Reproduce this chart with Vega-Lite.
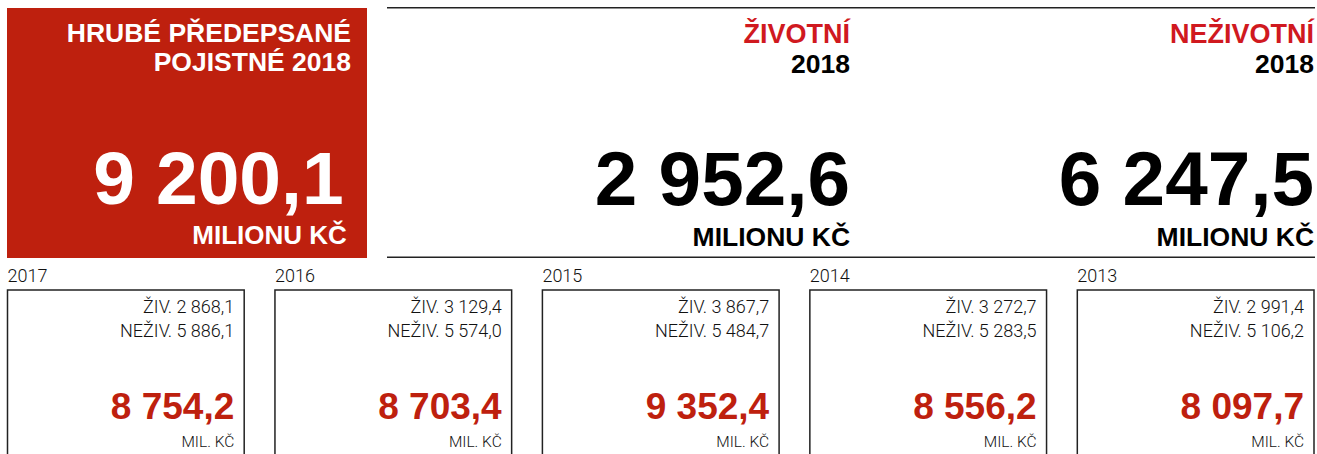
{
  "$schema": "https://vega.github.io/schema/vega-lite/v6.json",
  "width": 1317,
  "height": 454,
  "autosize": {"type": "fit", "contains": "padding"},
  "padding": 0,
  "background": "white",
  "config": {
    "view": {"stroke": null},
    "locale": {"number": {"decimal": ",", "thousands": " ", "grouping": [3], "currency": ["", " Kč"]}},
    "text": {"font": "Liberation Sans"}
  },
  "datasets": {
    "total": [{"label": "HRUBÉ PŘEDEPSANÉ\nPOJISTNÉ 2018", "year": "2018", "value": 9200.1}],
    "segments": [
      {"segment": "ŽIVOTNÍ", "year": "2018", "value": 2952.6},
      {"segment": "NEŽIVOTNÍ", "year": "2018", "value": 6247.5}
    ],
    "history": [
      {"year": "2017", "ziv": 2868.1, "neziv": 5886.1, "total": 8754.2},
      {"year": "2016", "ziv": 3129.4, "neziv": 5574.0, "total": 8703.4},
      {"year": "2015", "ziv": 3867.7, "neziv": 5484.7, "total": 9352.4},
      {"year": "2014", "ziv": 3272.7, "neziv": 5283.5, "total": 8556.2},
      {"year": "2013", "ziv": 2991.4, "neziv": 5106.2, "total": 8097.7}
    ]
  },
  "resolve": {"scale": {"x": "independent"}},
  "layer": [
    {
      "data": {"name": "total"},
      "layer": [
        {
          "mark": {"type": "rect", "fill": "#BE200E"},
          "encoding": {
            "x": {"field": "label", "type": "nominal", "axis": null, "scale": {"type": "band", "range": [7, 367], "paddingInner": 0, "paddingOuter": 0}},
            "y": {"value": 8},
            "y2": {"value": 258}
          }
        },
        {
          "mark": {"type": "text", "align": "right", "baseline": "alphabetic", "fontSize": 26.5, "fontWeight": "bold", "color": "white", "lineBreak": "\n", "lineHeight": 29},
          "encoding": {
            "x": {"field": "label", "type": "nominal", "bandPosition": 0.9556, "axis": null},
            "y": {"value": 42},
            "text": {"field": "label"}
          }
        },
        {
          "mark": {"type": "text", "align": "right", "baseline": "alphabetic", "fontSize": 75, "fontWeight": "bold", "color": "white"},
          "encoding": {
            "x": {"field": "label", "type": "nominal", "bandPosition": 0.935, "axis": null},
            "y": {"value": 204},
            "text": {"field": "value", "type": "quantitative", "format": ",.1f"}
          }
        },
        {
          "mark": {"type": "text", "align": "right", "baseline": "alphabetic", "fontSize": 26, "fontWeight": "bold", "color": "white", "text": "MILIONU KČ"},
          "encoding": {
            "x": {"field": "label", "type": "nominal", "bandPosition": 0.944, "axis": null},
            "y": {"value": 244}
          }
        }
      ]
    },
    {
      "data": {"name": "segments"},
      "encoding": {
        "x": {"field": "segment", "type": "nominal", "sort": null, "axis": null, "scale": {"type": "band", "range": [387, 1315], "paddingInner": 0, "paddingOuter": 0}}
      },
      "layer": [
        {
          "mark": {"type": "rect", "fill": "#222222"},
          "encoding": {"y": {"value": 7}, "y2": {"value": 8.5}}
        },
        {
          "mark": {"type": "rect", "fill": "#222222"},
          "encoding": {"y": {"value": 256.5}, "y2": {"value": 258}}
        },
        {
          "mark": {"type": "text", "align": "right", "baseline": "alphabetic", "fontSize": 27, "fontWeight": "bold", "color": "#D0191F"},
          "encoding": {
            "x": {"field": "segment", "type": "nominal", "sort": null, "bandPosition": 0.998, "axis": null},
            "y": {"value": 43},
            "text": {"field": "segment"}
          }
        },
        {
          "mark": {"type": "text", "align": "right", "baseline": "alphabetic", "fontSize": 26.5, "fontWeight": "bold", "color": "#000000"},
          "encoding": {
            "x": {"field": "segment", "type": "nominal", "sort": null, "bandPosition": 0.998, "axis": null},
            "y": {"value": 73},
            "text": {"field": "year", "type": "nominal"}
          }
        },
        {
          "mark": {"type": "text", "align": "right", "baseline": "alphabetic", "fontSize": 76.5, "fontWeight": "bold", "color": "#000000"},
          "encoding": {
            "x": {"field": "segment", "type": "nominal", "sort": null, "bandPosition": 0.998, "axis": null},
            "y": {"value": 205},
            "text": {"field": "value", "type": "quantitative", "format": ",.1f"}
          }
        },
        {
          "mark": {"type": "text", "align": "right", "baseline": "alphabetic", "fontSize": 26.5, "fontWeight": "bold", "color": "#000000", "text": "MILIONU KČ"},
          "encoding": {
            "x": {"field": "segment", "type": "nominal", "sort": null, "bandPosition": 0.998, "axis": null},
            "y": {"value": 246}
          }
        }
      ]
    },
    {
      "data": {"name": "history"},
      "layer": [
        {
          "mark": {"type": "text", "align": "left", "baseline": "alphabetic", "fontSize": 18, "font": "Roboto", "fontWeight": 300, "color": "#111111"},
          "encoding": {
            "x": {"field": "year", "type": "ordinal", "sort": "descending", "bandPosition": 0, "axis": null, "scale": {"type": "band", "range": [7.5, 1314], "paddingInner": 0.115, "paddingOuter": 0}},
            "y": {"value": 282},
            "text": {"field": "year", "type": "nominal"}
          }
        },
        {
          "mark": {"type": "rect", "fill": null, "stroke": "#222222", "strokeWidth": 1.5},
          "encoding": {
            "x": {"field": "year", "type": "ordinal", "sort": "descending", "axis": null},
            "y": {"value": 290},
            "y2": {"value": 470}
          }
        },
        {
          "mark": {"type": "text", "align": "right", "baseline": "alphabetic", "fontSize": 18, "font": "Roboto", "fontWeight": 300, "color": "#111111", "text": {"expr": "'ŽIV. ' + format(datum.ziv, ',.1f')"}},
          "encoding": {
            "x": {"field": "year", "type": "ordinal", "sort": "descending", "bandPosition": 0.958, "axis": null},
            "y": {"value": 313}
          }
        },
        {
          "mark": {"type": "text", "align": "right", "baseline": "alphabetic", "fontSize": 18, "font": "Roboto", "fontWeight": 300, "color": "#111111", "text": {"expr": "'NEŽIV. ' + format(datum.neziv, ',.1f')"}},
          "encoding": {
            "x": {"field": "year", "type": "ordinal", "sort": "descending", "bandPosition": 0.958, "axis": null},
            "y": {"value": 337}
          }
        },
        {
          "mark": {"type": "text", "align": "right", "baseline": "alphabetic", "fontSize": 37, "fontWeight": "bold", "color": "#BE200E"},
          "encoding": {
            "x": {"field": "year", "type": "ordinal", "sort": "descending", "bandPosition": 0.958, "axis": null},
            "y": {"value": 419},
            "text": {"field": "total", "type": "quantitative", "format": ",.1f"}
          }
        },
        {
          "mark": {"type": "text", "align": "right", "baseline": "alphabetic", "fontSize": 15.5, "font": "Roboto", "fontWeight": 300, "color": "#111111", "text": "MIL. KČ"},
          "encoding": {
            "x": {"field": "year", "type": "ordinal", "sort": "descending", "bandPosition": 0.958, "axis": null},
            "y": {"value": 447}
          }
        }
      ]
    }
  ]
}
